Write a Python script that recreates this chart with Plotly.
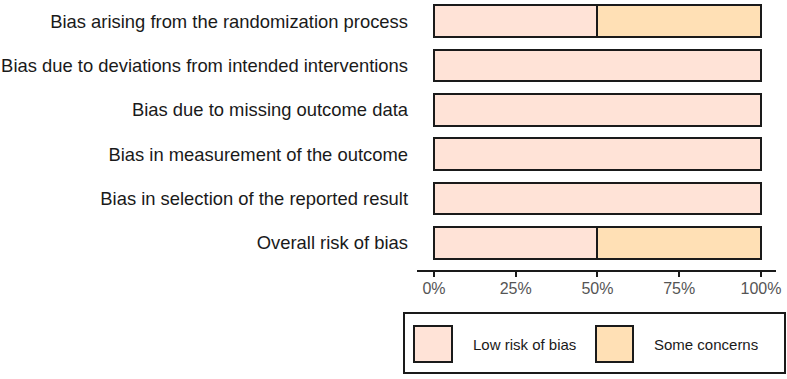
import plotly.graph_objects as go

categories = [
    "Bias arising from the randomization process",
    "Bias due to deviations from intended interventions",
    "Bias due to missing outcome data",
    "Bias in measurement of the outcome",
    "Bias in selection of the reported result",
    "Overall risk of bias",
]
low_risk = [50, 100, 100, 100, 100, 50]
some_concerns = [50, 0, 0, 0, 0, 50]
x_ticks = [0, 25, 50, 75, 100]
x_tick_labels = ["0%", "25%", "50%", "75%", "100%"]
series_names = ["Low risk of bias", "Some concerns"]
colors = ["#FFE3D7", "#FFE0B5"]

W, H = 787, 379
L, R, T, B = 417, 11, 0, 109
PW, PH = W - L - R, H - T - B

def px(x):
    return (x - L) / PW

def py(y):
    return (T + PH - y) / PH

fig = go.Figure()
for name, vals, col in zip(series_names, [low_risk, some_concerns], colors):
    fig.add_trace(go.Bar(
        y=categories, x=vals, name=name, orientation="h",
        marker=dict(color=col, line=dict(color="#1a1a1a", width=2)),
        width=0.72, showlegend=False, hoverinfo="skip",
    ))

fig.update_layout(
    width=W, height=H, barmode="stack",
    margin=dict(l=L, r=R, t=T, b=B),
    plot_bgcolor="white", paper_bgcolor="white",
    font=dict(family="Liberation Sans, Arial", size=16, color="#1a1a1a"),
)
fig.update_yaxes(
    categoryorder="array", categoryarray=categories,
    range=[5.614, -0.477], autorange=False,
    showline=False, showgrid=False, zeroline=False, ticks="",
    ticklabelstandoff=8, tickfont=dict(size=18.4, color="#1a1a1a"),
)
fig.update_xaxes(
    range=[-5.2, 104.6], autorange=False,
    tickvals=x_ticks, ticktext=x_tick_labels,
    showline=True, linecolor="#1a1a1a", linewidth=2,
    ticks="outside", ticklen=5, tickwidth=2, tickcolor="#1a1a1a",
    showgrid=False, zeroline=False, ticklabelstandoff=-2,
    tickfont=dict(size=16, color="#555555"),
)

# legend box drawn manually
fig.add_shape(type="rect", xref="paper", yref="paper",
              x0=px(404), x1=px(785), y0=py(313), y1=py(373),
              line=dict(color="#1a1a1a", width=2), fillcolor="rgba(0,0,0,0)")
leg_items = [(414, 452, 471), (596, 633, 652)]
for (sx0, sx1, tx), name, col in zip(leg_items, series_names, colors):
    fig.add_shape(type="rect", xref="paper", yref="paper",
                  x0=px(sx0), x1=px(sx1), y0=py(326), y1=py(362),
                  line=dict(color="#1a1a1a", width=2), fillcolor=col)
    fig.add_annotation(xref="paper", yref="paper", x=px(tx), y=py(344),
                       text=name, showarrow=False, xanchor="left", yanchor="middle",
                       font=dict(size=15, color="#1a1a1a"))

fig.write_html("out.html")
